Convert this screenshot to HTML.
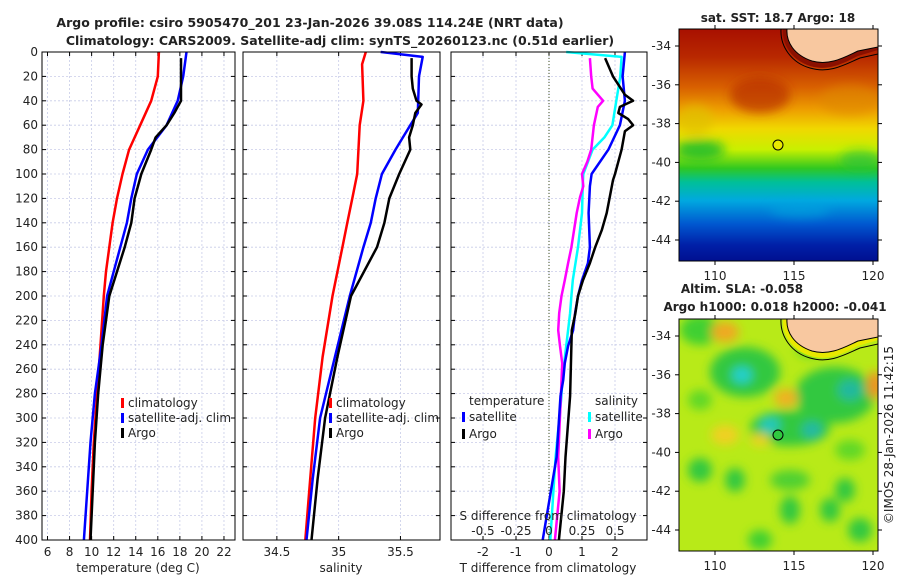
<!DOCTYPE html>
<html><head><meta charset="utf-8"><style>
html,body{margin:0;padding:0;background:#fff;}
svg text{font-family:"DejaVu Sans","Liberation Sans",sans-serif;fill:#222;}
</style></head><body>
<svg id="fig" width="900" height="580" viewBox="0 0 900 580">
<defs>
<linearGradient id="sstg" x1="0" y1="0" x2="0" y2="1">
<stop offset="0" stop-color="#a81000"/><stop offset="0.12" stop-color="#b82800"/>
<stop offset="0.25" stop-color="#d86000"/><stop offset="0.35" stop-color="#eea000"/>
<stop offset="0.43" stop-color="#f0d800"/><stop offset="0.52" stop-color="#c8f000"/>
<stop offset="0.6" stop-color="#30c820"/><stop offset="0.66" stop-color="#00c098"/>
<stop offset="0.74" stop-color="#00a8e0"/><stop offset="0.84" stop-color="#0058d0"/>
<stop offset="0.93" stop-color="#0020a8"/><stop offset="1" stop-color="#001090"/>
</linearGradient>
<filter id="blur4"><feGaussianBlur stdDeviation="5"/></filter>
<clipPath id="clip1"><rect x="679" y="29" width="199" height="232"/></clipPath>
<clipPath id="clip2"><rect x="679" y="319" width="199" height="232"/></clipPath>
</defs>
<text x="310" y="27" text-anchor="middle" font-size="12.5" font-weight="bold">Argo profile: csiro 5905470_201 23-Jan-2026 39.08S 114.24E (NRT data)</text>
<text x="340" y="45" text-anchor="middle" font-size="12.5" font-weight="bold">Climatology: CARS2009. Satellite-adj clim: synTS_20260123.nc (0.51d earlier)</text>
<g id="panels"></g>
<g>
<text x="778" y="22" text-anchor="middle" font-size="12" font-weight="bold">sat. SST: 18.7 Argo: 18</text>
<g clip-path="url(#clip1)">
<rect x="679" y="29" width="199" height="232" fill="url(#sstg)"/>
<g filter="url(#blur4)">
<ellipse cx="760" cy="95" rx="30" ry="18" fill="#b83000" opacity="0.7"/>
<ellipse cx="695" cy="120" rx="18" ry="15" fill="#e0c000" opacity="0.7"/>
<ellipse cx="700" cy="150" rx="25" ry="10" fill="#10b830" opacity="0.8"/>
<ellipse cx="850" cy="100" rx="30" ry="15" fill="#e08800" opacity="0.6"/>
<ellipse cx="860" cy="160" rx="20" ry="10" fill="#20c040" opacity="0.6"/>
<ellipse cx="800" cy="210" rx="30" ry="8" fill="#00a8e0" opacity="0.5"/>
</g>
<path d="M783,29 C782,45 792,60 810,66 C830,72 845,62 858,56 L878,50 L878,29 Z" fill="#8a1000"/>
<path d="M787,29 C786,42 794,55 812,61 C830,66 845,57 858,51 L878,47 L878,29 Z" fill="#f8c8a0" stroke="#000" stroke-width="1"/>
<path d="M781,29 C780,47 792,63 810,68 C830,74 846,64 860,58 L878,54" fill="none" stroke="#000" stroke-width="1"/>
</g>
<rect x="679" y="29" width="199" height="232" fill="none" stroke="#000" stroke-width="1"/>
<circle cx="778" cy="145" r="5" fill="#e8e800" stroke="#000" stroke-width="1"/>
</g>
<g>
<text x="742" y="293" text-anchor="middle" font-size="12" font-weight="bold">Altim. SLA: -0.058</text>
<text x="775" y="311" text-anchor="middle" font-size="12" font-weight="bold">Argo h1000: 0.018 h2000: -0.041</text>
<g clip-path="url(#clip2)">
<rect x="679" y="319" width="199" height="232" fill="#b8ea18"/>
<g filter="url(#blur4)">
<ellipse cx="745" cy="372" rx="35" ry="25" fill="#30c840"/>
<ellipse cx="742" cy="375" rx="10" ry="8" fill="#20d0d0"/>
<ellipse cx="700" cy="330" rx="20" ry="15" fill="#40d030"/>
<ellipse cx="725" cy="332" rx="14" ry="10" fill="#f0a820"/>
<ellipse cx="835" cy="395" rx="40" ry="28" fill="#30c840"/>
<ellipse cx="850" cy="390" rx="12" ry="10" fill="#20b8a0"/>
<ellipse cx="790" cy="428" rx="40" ry="18" fill="#30c840"/>
<ellipse cx="770" cy="425" rx="10" ry="8" fill="#20c8c0"/>
<ellipse cx="812" cy="430" rx="10" ry="8" fill="#20b8a8"/>
<ellipse cx="786" cy="398" rx="12" ry="9" fill="#f0b020"/>
<ellipse cx="875" cy="385" rx="8" ry="14" fill="#f09020"/>
<ellipse cx="725" cy="435" rx="14" ry="10" fill="#f0d020"/>
<ellipse cx="700" cy="470" rx="12" ry="12" fill="#30c840"/>
<ellipse cx="735" cy="480" rx="10" ry="12" fill="#30c840"/>
<ellipse cx="790" cy="480" rx="20" ry="10" fill="#50d030"/>
<ellipse cx="845" cy="490" rx="10" ry="12" fill="#30c840"/>
<ellipse cx="790" cy="510" rx="10" ry="14" fill="#30c840"/>
<ellipse cx="860" cy="530" rx="12" ry="12" fill="#30c840"/>
<ellipse cx="830" cy="510" rx="10" ry="12" fill="#30c840"/>
<ellipse cx="760" cy="440" rx="10" ry="6" fill="#f0d020"/>
<ellipse cx="760" cy="540" rx="12" ry="10" fill="#40d030"/>
<ellipse cx="850" cy="450" rx="15" ry="10" fill="#60d828"/>
<ellipse cx="700" cy="400" rx="12" ry="10" fill="#60d828"/>
<ellipse cx="810" cy="350" rx="14" ry="8" fill="#70dc20"/>
</g>
<path d="M783,319 C782,335 792,350 810,356 C830,362 845,352 858,346 L878,340 L878,319 Z" fill="#e8e800"/>
<path d="M787,319 C786,332 794,345 812,351 C830,356 845,347 858,341 L878,337 L878,319 Z" fill="#f8c8a0" stroke="#000" stroke-width="1"/>
<path d="M781,319 C780,337 792,353 810,358 C830,364 846,354 860,348 L878,344" fill="none" stroke="#000" stroke-width="1"/>
</g>
<rect x="679" y="319" width="199" height="232" fill="none" stroke="#000" stroke-width="1"/>
<circle cx="778" cy="435" r="5" fill="#30c840" stroke="#000" stroke-width="1"/>
</g>
<text transform="translate(893,435) rotate(-90)" text-anchor="middle" font-size="12">©IMOS 28-Jan-2026 11:42:15</text>
</svg>
<script>
const depthTicks = [0,20,40,60,80,100,120,140,160,180,200,220,240,260,280,300,320,340,360,380,400];
const tempTicks = [6,8,10,12,14,16,18,20,22];
const salTicks = [34.5,35,35.5];
const tdiffTicks = [-2,-1,0,1,2];
const sdiffTicks = [-0.5,-0.25,0,0.25,0.5];
const climDepth = [0,20,40,60,80,100,120,140,160,180,200,240,280,320,360,400];
const climTemp = [16.1,16.0,15.4,14.4,13.4,12.8,12.3,11.9,11.6,11.3,11.1,10.8,10.5,10.2,10.0,9.85];
const satTemp = [18.6,18.3,17.8,16.8,15.1,14.1,13.6,13.2,12.6,12.0,11.4,10.9,10.3,9.9,9.6,9.3];
const argoTDepth = [5,20,40,50,60,70,80,100,120,140,160,180,200,240,280,320,360,400];
const argoTemp = [18.1,18.1,18.1,17.5,16.8,15.8,15.4,14.5,13.9,13.6,13.0,12.3,11.6,11.0,10.6,10.3,10.1,9.9];
const climSDepth = [0,10,40,60,100,120,140,160,200,250,300,350,400];
const climSal = [35.22,35.19,35.2,35.17,35.15,35.11,35.07,35.03,34.95,34.87,34.81,34.77,34.73];
const satSDepth = [0,4,20,50,60,70,80,100,120,140,160,200,250,300,350,400];
const satSal = [35.34,35.68,35.65,35.64,35.58,35.52,35.46,35.35,35.3,35.26,35.2,35.09,34.97,34.85,34.79,34.74];
const argoSDepth = [5,20,30,40,43,50,60,70,80,100,120,140,160,200,250,300,350,400];
const argoSal = [35.59,35.59,35.6,35.63,35.67,35.62,35.6,35.57,35.58,35.49,35.41,35.37,35.31,35.1,34.99,34.89,34.83,34.78];
const satTdDepth = [0,20,40,60,80,100,110,132,160,173,187,200,214,228,241,255,269,282,332,400];
const satTdiff = [2.3,2.23,2.3,2.15,1.8,1.29,1.24,1.2,1.24,1.18,1.0,0.88,0.79,0.73,0.58,0.48,0.43,0.35,0.23,-0.19];
const argoTdDepth = [5,20,35,40,45,50,55,60,65,80,100,105,132,146,160,173,187,200,214,228,282,332,360,400];
const argoTdiff = [1.7,1.94,2.3,2.55,2.15,2.1,2.4,2.55,2.3,2.2,2.0,1.94,1.75,1.6,1.4,1.24,1.03,0.88,0.8,0.69,0.64,0.5,0.45,0.3];
const satSdDepth = [0,4,20,40,60,70,80,100,110,132,160,187,200,214,228,241,255,269,282,332,400];
const satSdiff = [0.13,0.55,0.54,0.51,0.48,0.42,0.33,0.26,0.255,0.25,0.22,0.18,0.17,0.16,0.145,0.13,0.115,0.1,0.095,0.05,0.01];
const argoSdDepth = [5,20,30,40,45,60,80,90,100,110,119,132,160,173,187,200,214,228,241,255,282,332,360,400];
const argoSdiff = [0.31,0.32,0.33,0.41,0.37,0.34,0.32,0.29,0.25,0.26,0.235,0.21,0.17,0.145,0.12,0.095,0.077,0.07,0.083,0.1,0.09,0.07,0.08,0.045];
const latTicks = [-34,-36,-38,-40,-42,-44];
const lonTicks = [110,115,120];

const NS='http://www.w3.org/2000/svg';
const svg=document.getElementById('fig');
const root=document.getElementById('panels');
function mk(tag,attrs,parent){const e=document.createElementNS(NS,tag);for(const k in attrs)e.setAttribute(k,attrs[k]);(parent||root).appendChild(e);return e;}
const Y0=52,Y1=540;
const yD=d=>Y0+(d/400)*(Y1-Y0);
function lin(d0,d1,r0,r1){return v=>r0+(v-d0)/(d1-d0)*(r1-r0);}

function panel(name,x0,x1,xs,ticks,fmt,showY){
  const g=mk('g',{});
  
  
  mk('rect',{x:x0,y:Y0,width:x1-x0,height:Y1-Y0,fill:'#fff'},g);
  depthTicks.forEach(d=>{
    mk('line',{x1:x0,x2:x1,y1:yD(d),y2:yD(d),stroke:'#c8cce8','stroke-width':0.8,'stroke-dasharray':'2,2'},g);
    mk('line',{x1:x0,x2:x0+4,y1:yD(d),y2:yD(d),stroke:'#000'},g);
    mk('line',{x1:x1-4,x2:x1,y1:yD(d),y2:yD(d),stroke:'#000'},g);
    if(showY){const t=mk('text',{x:x0-4,y:yD(d)+4,'text-anchor':'end','font-size':12},g);t.textContent=d;}
  });
  ticks.forEach(v=>{const x=xs(v);
    mk('line',{x1:x,x2:x,y1:Y0,y2:Y1,stroke:'#c8cce8','stroke-width':0.8,'stroke-dasharray':'2,2'},g);
    mk('line',{x1:x,x2:x,y1:Y1-4,y2:Y1,stroke:'#000'},g);
    mk('line',{x1:x,x2:x,y1:Y0,y2:Y0+4,stroke:'#000'},g);
    const t=mk('text',{x:x,y:556,'text-anchor':'middle','font-size':12},g);t.textContent=fmt(v);});
  return g;
}
function line(g,name,xs,vals,depths,color){
  const p=mk('polyline',{points:vals.map((v,i)=>xs(v).toFixed(1)+','+yD(depths[i]).toFixed(1)).join(' '),fill:'none',stroke:color,'stroke-width':2.5,'stroke-linejoin':'round'},g);
  
  
}
function legend(g,x,y,color,label,name){
  mk('rect',{x:x,y:y-9,width:3,height:10,fill:color},g);
  const t=mk('text',{x:x+7,y:y,'font-size':12},g);t.textContent=label;
  
  
}
const xT=lin(5.5,23,42,235);
const g1=panel('temperature-panel',42,235,xT,tempTicks,v=>v,true);
line(g1,'climatology-temp-line',xT,climTemp,climDepth,'#ff0000');
line(g1,'satellite-temp-line',xT,satTemp,climDepth,'#0000ff');
line(g1,'argo-temp-line',xT,argoTemp,argoTDepth,'#000');
mk('rect',{x:42,y:Y0,width:193,height:488,fill:'none',stroke:'#000'},g1);
legend(g1,121,407,'#ff0000','climatology','legend-climatology');
legend(g1,121,422,'#0000ff','satellite-adj. clim','legend-satellite');
legend(g1,121,437,'#000','Argo','legend-argo');
let t=mk('text',{x:138,y:572,'text-anchor':'middle','font-size':12},g1);t.textContent='temperature (deg C)';
const xS=lin(34.226,35.82,243,440);
const g2=panel('salinity-panel',243,440,xS,salTicks,v=>v,false);
line(g2,'climatology-sal-line',xS,climSal,climSDepth,'#ff0000');
line(g2,'satellite-sal-line',xS,satSal,satSDepth,'#0000ff');
line(g2,'argo-sal-line',xS,argoSal,argoSDepth,'#000');
mk('rect',{x:243,y:Y0,width:197,height:488,fill:'none',stroke:'#000'},g2);
legend(g2,329,407,'#ff0000','climatology','legend-climatology-2');
legend(g2,329,422,'#0000ff','satellite-adj. clim','legend-satellite-2');
legend(g2,329,437,'#000','Argo','legend-argo-2');
t=mk('text',{x:341,y:572,'text-anchor':'middle','font-size':12},g2);t.textContent='salinity';
const xTd=lin(-2.97,2.97,451,647);
const xSd=v=>xTd(v*4);
const g3=panel('difference-panel',451,647,xTd,tdiffTicks,v=>v,false);
mk('line',{x1:xTd(0),x2:xTd(0),y1:Y0,y2:Y1,stroke:'#405020','stroke-width':1,'stroke-dasharray':'1,2'},g3);
line(g3,'satellite-sdiff-line',xSd,satSdiff,satSdDepth,'#00ffff');
line(g3,'argo-sdiff-line',xSd,argoSdiff,argoSdDepth,'#ff00ff');
line(g3,'satellite-tdiff-line',xTd,satTdiff,satTdDepth,'#0000ff');
line(g3,'argo-tdiff-line',xTd,argoTdiff,argoTdDepth,'#000');
t=mk('text',{x:469,y:405,'font-size':12},g3);t.textContent='temperature';
t=mk('text',{x:595,y:405,'font-size':12},g3);t.textContent='salinity';
legend(g3,462,421,'#0000ff','satellite','legend-t-satellite');
legend(g3,462,438,'#000','Argo','legend-t-argo');
legend(g3,588,421,'#00ffff','satellite','legend-s-satellite');
legend(g3,588,438,'#ff00ff','Argo','legend-s-argo');
t=mk('text',{x:548,y:520,'text-anchor':'middle','font-size':12},g3);t.textContent='S difference from climatology';
sdiffTicks.forEach(v=>{const tt=mk('text',{x:xSd(v),y:535,'text-anchor':'middle','font-size':12},g3);tt.textContent=v;});
mk('rect',{x:451,y:Y0,width:196,height:488,fill:'none',stroke:'#000'},g3);
t=mk('text',{x:548,y:572,'text-anchor':'middle','font-size':12},g3);t.textContent='T difference from climatology';
function mapAxes(top,name){
  const g=document.createElementNS(NS,'g');svg.appendChild(g);
  
  
  const yL=lin(-34,-44,top+17,top+211);
  const xL=lin(110,120,715,873);
  latTicks.forEach(v=>{const y=yL(v);
    mk('line',{x1:679,x2:675,y1:y,y2:y,stroke:'#000'},g);
    mk('line',{x1:878,x2:882,y1:y,y2:y,stroke:'#000'},g);
    const tt=mk('text',{x:671,y:y+4,'text-anchor':'end','font-size':12},g);tt.textContent=v;});
  lonTicks.forEach(v=>{const x=xL(v);
    mk('line',{x1:x,x2:x,y1:top+232,y2:top+236,stroke:'#000'},g);
    mk('line',{x1:x,x2:x,y1:top,y2:top-4,stroke:'#000'},g);
    const tt=mk('text',{x:x,y:top+251,'text-anchor':'middle','font-size':12},g);tt.textContent=v;});
}
mapAxes(29,'sst-map-axes');
mapAxes(319,'sla-map-axes');
</script>
</body></html>
